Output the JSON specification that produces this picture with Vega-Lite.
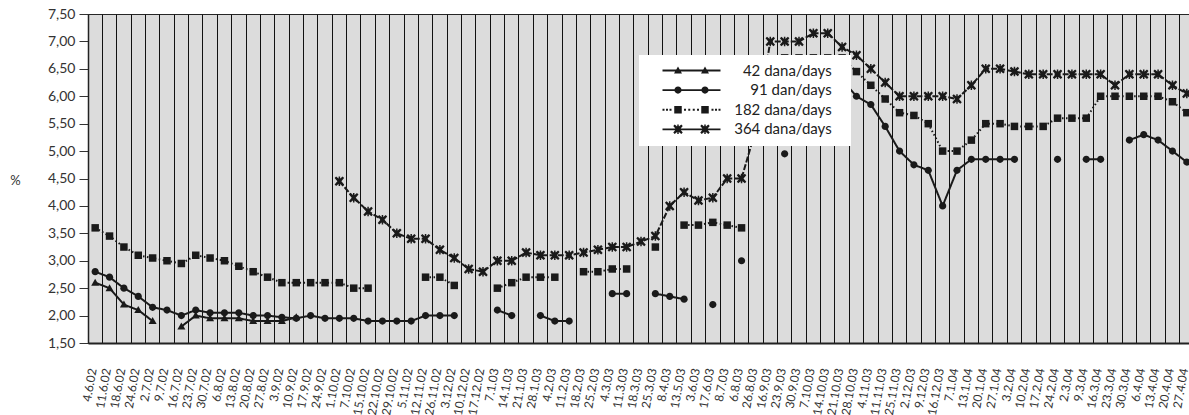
{
  "$schema": "https://vega.github.io/schema/vega-lite/v6.json",
  "width": 1106,
  "height": 329,
  "autosize": "none",
  "padding": {"left": 88, "top": 14, "right": -5, "bottom": 72},
  "background": "white",
  "config": {
    "font": "Lato",
    "view": {"fill": "#dcdcdc", "stroke": "#262626", "strokeWidth": 1}
  },
  "data": {
    "values": [
      {"d": "4.6.02", "42 dana/days": 2.6, "91 dan/days": 2.8, "182 dana/days": 3.6, "364 dana/days": null},
      {"d": "11.6.02", "42 dana/days": 2.5, "91 dan/days": 2.7, "182 dana/days": 3.45, "364 dana/days": null},
      {"d": "18.6.02", "42 dana/days": 2.2, "91 dan/days": 2.5, "182 dana/days": 3.25, "364 dana/days": null},
      {"d": "24.6.02", "42 dana/days": 2.1, "91 dan/days": 2.35, "182 dana/days": 3.1, "364 dana/days": null},
      {"d": "2.7.02", "42 dana/days": 1.9, "91 dan/days": 2.15, "182 dana/days": 3.05, "364 dana/days": null},
      {"d": "9.7.02", "42 dana/days": null, "91 dan/days": 2.1, "182 dana/days": 3.0, "364 dana/days": null},
      {"d": "16.7.02", "42 dana/days": 1.8, "91 dan/days": 2.0, "182 dana/days": 2.95, "364 dana/days": null},
      {"d": "23.7.02", "42 dana/days": 2.0, "91 dan/days": 2.1, "182 dana/days": 3.1, "364 dana/days": null},
      {"d": "30.7.02", "42 dana/days": 1.95, "91 dan/days": 2.05, "182 dana/days": 3.05, "364 dana/days": null},
      {"d": "6.8.02", "42 dana/days": 1.95, "91 dan/days": 2.05, "182 dana/days": 3.0, "364 dana/days": null},
      {"d": "13.8.02", "42 dana/days": 1.95, "91 dan/days": 2.05, "182 dana/days": 2.9, "364 dana/days": null},
      {"d": "20.8.02", "42 dana/days": 1.9, "91 dan/days": 2.0, "182 dana/days": 2.8, "364 dana/days": null},
      {"d": "27.8.02", "42 dana/days": 1.9, "91 dan/days": 2.0, "182 dana/days": 2.7, "364 dana/days": null},
      {"d": "3.9.02", "42 dana/days": 1.9, "91 dan/days": 1.97, "182 dana/days": 2.6, "364 dana/days": null},
      {"d": "10.9.02", "42 dana/days": 1.97, "91 dan/days": 1.95, "182 dana/days": 2.6, "364 dana/days": null},
      {"d": "17.9.02", "42 dana/days": null, "91 dan/days": 2.0, "182 dana/days": 2.6, "364 dana/days": null},
      {"d": "24.9.02", "42 dana/days": null, "91 dan/days": 1.95, "182 dana/days": 2.6, "364 dana/days": null},
      {"d": "1.10.02", "42 dana/days": null, "91 dan/days": 1.95, "182 dana/days": 2.6, "364 dana/days": 4.45},
      {"d": "7.10.02", "42 dana/days": null, "91 dan/days": 1.95, "182 dana/days": 2.5, "364 dana/days": 4.15},
      {"d": "15.10.02", "42 dana/days": null, "91 dan/days": 1.9, "182 dana/days": 2.5, "364 dana/days": 3.9},
      {"d": "22.10.02", "42 dana/days": null, "91 dan/days": 1.9, "182 dana/days": null, "364 dana/days": 3.75},
      {"d": "29.10.02", "42 dana/days": null, "91 dan/days": 1.9, "182 dana/days": null, "364 dana/days": 3.5},
      {"d": "5.11.02", "42 dana/days": null, "91 dan/days": 1.9, "182 dana/days": null, "364 dana/days": 3.4},
      {"d": "12.11.02", "42 dana/days": null, "91 dan/days": 2.0, "182 dana/days": 2.7, "364 dana/days": 3.4},
      {"d": "26.11.02", "42 dana/days": null, "91 dan/days": 2.0, "182 dana/days": 2.7, "364 dana/days": 3.2},
      {"d": "3.12.02", "42 dana/days": null, "91 dan/days": 2.0, "182 dana/days": 2.55, "364 dana/days": 3.05},
      {"d": "10.12.02", "42 dana/days": null, "91 dan/days": null, "182 dana/days": null, "364 dana/days": 2.85},
      {"d": "17.12.02", "42 dana/days": null, "91 dan/days": null, "182 dana/days": null, "364 dana/days": 2.8},
      {"d": "7.1.03", "42 dana/days": null, "91 dan/days": 2.1, "182 dana/days": 2.5, "364 dana/days": 3.0},
      {"d": "14.1.03", "42 dana/days": null, "91 dan/days": 2.0, "182 dana/days": 2.6, "364 dana/days": 3.0},
      {"d": "21.1.03", "42 dana/days": null, "91 dan/days": null, "182 dana/days": 2.7, "364 dana/days": 3.15},
      {"d": "28.1.03", "42 dana/days": null, "91 dan/days": 2.0, "182 dana/days": 2.7, "364 dana/days": 3.1},
      {"d": "4.2.03", "42 dana/days": null, "91 dan/days": 1.9, "182 dana/days": 2.7, "364 dana/days": 3.1},
      {"d": "11.2.03", "42 dana/days": null, "91 dan/days": 1.9, "182 dana/days": null, "364 dana/days": 3.1},
      {"d": "18.2.03", "42 dana/days": null, "91 dan/days": null, "182 dana/days": 2.8, "364 dana/days": 3.15},
      {"d": "25.2.03", "42 dana/days": null, "91 dan/days": null, "182 dana/days": 2.8, "364 dana/days": 3.2},
      {"d": "4.3.03", "42 dana/days": null, "91 dan/days": 2.4, "182 dana/days": 2.85, "364 dana/days": 3.25},
      {"d": "11.3.03", "42 dana/days": null, "91 dan/days": 2.4, "182 dana/days": 2.85, "364 dana/days": 3.25},
      {"d": "18.3.03", "42 dana/days": null, "91 dan/days": null, "182 dana/days": null, "364 dana/days": 3.35},
      {"d": "25.3.03", "42 dana/days": null, "91 dan/days": 2.4, "182 dana/days": 3.25, "364 dana/days": 3.45},
      {"d": "8.4.03", "42 dana/days": null, "91 dan/days": 2.35, "182 dana/days": null, "364 dana/days": 4.0},
      {"d": "13.5.03", "42 dana/days": null, "91 dan/days": 2.3, "182 dana/days": 3.65, "364 dana/days": 4.25},
      {"d": "3.6.03", "42 dana/days": null, "91 dan/days": null, "182 dana/days": 3.65, "364 dana/days": 4.1},
      {"d": "17.6.03", "42 dana/days": null, "91 dan/days": 2.2, "182 dana/days": 3.7, "364 dana/days": 4.15},
      {"d": "8.7.03", "42 dana/days": null, "91 dan/days": null, "182 dana/days": 3.65, "364 dana/days": 4.5},
      {"d": "6.8.03", "42 dana/days": null, "91 dan/days": 3.0, "182 dana/days": 3.6, "364 dana/days": 4.5},
      {"d": "26.8.03", "42 dana/days": null, "91 dan/days": null, "182 dana/days": null, "364 dana/days": 5.4},
      {"d": "16.9.03", "42 dana/days": null, "91 dan/days": null, "182 dana/days": null, "364 dana/days": 7.0},
      {"d": "23.9.03", "42 dana/days": null, "91 dan/days": 4.95, "182 dana/days": 6.7, "364 dana/days": 7.0},
      {"d": "30.9.03", "42 dana/days": null, "91 dan/days": null, "182 dana/days": 6.7, "364 dana/days": 7.0},
      {"d": "7.10.03", "42 dana/days": null, "91 dan/days": null, "182 dana/days": 6.7, "364 dana/days": 7.15},
      {"d": "14.10.03", "42 dana/days": null, "91 dan/days": null, "182 dana/days": 6.7, "364 dana/days": 7.15},
      {"d": "21.10.03", "42 dana/days": null, "91 dan/days": 6.3, "182 dana/days": 6.7, "364 dana/days": 6.9},
      {"d": "28.10.03", "42 dana/days": null, "91 dan/days": 6.0, "182 dana/days": 6.45, "364 dana/days": 6.75},
      {"d": "4.11.03", "42 dana/days": null, "91 dan/days": 5.85, "182 dana/days": 6.2, "364 dana/days": 6.5},
      {"d": "11.11.03", "42 dana/days": null, "91 dan/days": 5.45, "182 dana/days": 5.95, "364 dana/days": 6.25},
      {"d": "25.11.03", "42 dana/days": null, "91 dan/days": 5.0, "182 dana/days": 5.7, "364 dana/days": 6.0},
      {"d": "2.12.03", "42 dana/days": null, "91 dan/days": 4.75, "182 dana/days": 5.65, "364 dana/days": 6.0},
      {"d": "9.12.03", "42 dana/days": null, "91 dan/days": 4.65, "182 dana/days": 5.5, "364 dana/days": 6.0},
      {"d": "16.12.03", "42 dana/days": null, "91 dan/days": 4.0, "182 dana/days": 5.0, "364 dana/days": 6.0},
      {"d": "7.1.04", "42 dana/days": null, "91 dan/days": 4.65, "182 dana/days": 5.0, "364 dana/days": 5.95},
      {"d": "13.1.04", "42 dana/days": null, "91 dan/days": 4.85, "182 dana/days": 5.2, "364 dana/days": 6.2},
      {"d": "20.1.04", "42 dana/days": null, "91 dan/days": 4.85, "182 dana/days": 5.5, "364 dana/days": 6.5},
      {"d": "27.1.04", "42 dana/days": null, "91 dan/days": 4.85, "182 dana/days": 5.5, "364 dana/days": 6.5},
      {"d": "3.2.04", "42 dana/days": null, "91 dan/days": 4.85, "182 dana/days": 5.45, "364 dana/days": 6.45},
      {"d": "10.2.04", "42 dana/days": null, "91 dan/days": null, "182 dana/days": 5.45, "364 dana/days": 6.4},
      {"d": "17.2.04", "42 dana/days": null, "91 dan/days": null, "182 dana/days": 5.45, "364 dana/days": 6.4},
      {"d": "24.2.04", "42 dana/days": null, "91 dan/days": 4.85, "182 dana/days": 5.6, "364 dana/days": 6.4},
      {"d": "2.3.04", "42 dana/days": null, "91 dan/days": null, "182 dana/days": 5.6, "364 dana/days": 6.4},
      {"d": "9.3.04", "42 dana/days": null, "91 dan/days": 4.85, "182 dana/days": 5.6, "364 dana/days": 6.4},
      {"d": "16.3.04", "42 dana/days": null, "91 dan/days": 4.85, "182 dana/days": 6.0, "364 dana/days": 6.4},
      {"d": "23.3.04", "42 dana/days": null, "91 dan/days": null, "182 dana/days": 6.0, "364 dana/days": 6.2},
      {"d": "30.3.04", "42 dana/days": null, "91 dan/days": 5.2, "182 dana/days": 6.0, "364 dana/days": 6.4},
      {"d": "6.4.04", "42 dana/days": null, "91 dan/days": 5.3, "182 dana/days": 6.0, "364 dana/days": 6.4},
      {"d": "13.4.04", "42 dana/days": null, "91 dan/days": 5.2, "182 dana/days": 6.0, "364 dana/days": 6.4},
      {"d": "20.4.04", "42 dana/days": null, "91 dan/days": 5.0, "182 dana/days": 5.9, "364 dana/days": 6.2},
      {"d": "27.4.04", "42 dana/days": null, "91 dan/days": 4.8, "182 dana/days": 5.7, "364 dana/days": 6.05}
    ]
  },
  "transform": [
    {"fold": ["42 dana/days", "91 dan/days", "182 dana/days", "364 dana/days"], "as": ["series", "value"]}
  ],
  "encoding": {
    "y": {
      "field": "value",
      "type": "quantitative",
      "scale": {"domain": [1.5, 7.5], "nice": false, "zero": false},
      "axis": {
        "values": [1.5, 2, 2.5, 3, 3.5, 4, 4.5, 5, 5.5, 6, 6.5, 7, 7.5],
        "labelExpr": "replace(format(datum.value, '.2f'), '.', ',')",
        "grid": false,
        "ticks": true,
        "tickSize": 9,
        "tickColor": "#333333",
        "tickWidth": 1,
        "labelPadding": 4,
        "labelFontSize": 14,
        "labelFont": "Lato",
        "labelColor": "#333333",
        "domain": true,
        "domainColor": "#222222",
        "domainWidth": 1.5,
        "title": "%",
        "titleAngle": 0,
        "titleX": -73,
        "titleY": 166,
        "titleAlign": "center",
        "titleBaseline": "middle",
        "titleFontSize": 13,
        "titleFontWeight": "normal",
        "titleFont": "Lato",
        "titleColor": "#333333"
      }
    }
  },
  "layer": [
    {
      "mark": {"type": "line", "color": "#1a1a1a", "strokeWidth": 2},
      "encoding": {
        "x": {
          "field": "d",
          "type": "ordinal",
          "sort": null,
          "scale": {"type": "band", "paddingInner": 0, "paddingOuter": 0},
          "axis": {
            "orient": "top",
            "grid": true,
            "bandPosition": 0,
            "labels": false,
            "ticks": false,
            "domain": false,
            "title": null,
            "gridColor": "#111111",
            "gridWidth": 1,
            "gridOpacity": 1
          }
        },
        "strokeDash": {
          "field": "series",
          "type": "nominal",
          "scale": {
            "domain": ["91 dan/days", "42 dana/days", "182 dana/days", "364 dana/days"],
            "range": [[1, 0], [1, 0], [1.5, 2.5], [6, 2]]
          },
          "legend": null
        }
      }
    },
    {
      "mark": {"type": "point", "filled": true, "size": 100, "color": "#1a1a1a", "opacity": 1, "strokeWidth": 0},
      "encoding": {
        "x": {
          "field": "d",
          "type": "ordinal",
          "sort": null,
          "scale": {"type": "band", "paddingInner": 0, "paddingOuter": 0},
          "axis": {
            "orient": "bottom",
            "grid": false,
            "ticks": false,
            "tickSize": 0,
            "domain": true,
            "domainColor": "#222222",
            "domainWidth": 2,
            "labelAngle": -80,
            "labelPadding": 25,
            "labelOffset": -2.5,
            "labelFontSize": 12,
            "labelFont": "Lato",
            "labelColor": "#333333",
            "labelOverlap": false,
            "title": null
          }
        },
        "shape": {
          "field": "series",
          "type": "nominal",
          "scale": {
            "domain": ["91 dan/days", "42 dana/days", "182 dana/days", "364 dana/days"],
            "range": [
              "M0.72,0A0.72,0.72,0,1,1,-0.72,0A0.72,0.72,0,1,1,0.72,0Z",
              "M0,-0.8L0.8,0.6L-0.8,0.6Z",
              "M-0.75,-0.75L0.75,-0.75L0.75,0.75L-0.75,0.75Z",
              "M0,-0.4L0.65,-0.95L0.95,-0.65L0.4,0L0.95,0.65L0.65,0.95L0,0.4L-0.65,0.95L-0.95,0.65L-0.4,0L-0.95,-0.65L-0.65,-0.95ZM-0.15,-0.95L0.15,-0.95L0.15,0.95L-0.15,0.95Z"
            ]
          },
          "legend": null
        }
      }
    },
    {
      "transform": [{"filter": "datum.series === 'none'"}],
      "mark": {"type": "point", "filled": true, "size": 100, "color": "#1a1a1a", "opacity": 1, "strokeWidth": 0},
      "encoding": {
        "x": {
          "field": "d",
          "type": "ordinal",
          "sort": null,
          "scale": {"type": "band", "paddingInner": 0, "paddingOuter": 0},
          "axis": null
        },
        "shape": {
          "field": "series",
          "type": "nominal",
          "scale": {
            "domain": ["42 dana/days", "91 dan/days", "182 dana/days", "364 dana/days"],
            "range": [
              "M-8.9,0M-5.8,-0.18L5.8,-0.18L5.8,0.18L-5.8,0.18ZM-2.7,-0.8L-1.9,0.6L-3.5,0.6ZM2.7,-0.8L3.5,0.6L1.9,0.6ZM30.24,0",
              "M-8.9,0M-5.8,-0.18L5.8,-0.18L5.8,0.18L-5.8,0.18ZM-1.98,0A0.72,0.72,0,1,1,-3.42,0A0.72,0.72,0,1,1,-1.98,0ZM3.42,0A0.72,0.72,0,1,1,1.98,0A0.72,0.72,0,1,1,3.42,0ZM30.24,0",
              "M-8.9,0M-5.8,-0.2L-5.4,-0.2L-5.4,0.2L-5.8,0.2ZM-5.1,-0.2L-4.7,-0.2L-4.7,0.2L-5.1,0.2ZM-4.4,-0.2L-4,-0.2L-4,0.2L-4.4,0.2ZM-1.5,-0.2L-1.1,-0.2L-1.1,0.2L-1.5,0.2ZM-0.65,-0.2L-0.25,-0.2L-0.25,0.2L-0.65,0.2ZM0.25,-0.2L0.65,-0.2L0.65,0.2L0.25,0.2ZM1.1,-0.2L1.5,-0.2L1.5,0.2L1.1,0.2ZM4,-0.2L4.4,-0.2L4.4,0.2L4,0.2ZM4.7,-0.2L5.1,-0.2L5.1,0.2L4.7,0.2ZM5.4,-0.2L5.8,-0.2L5.8,0.2L5.4,0.2ZM-3.45,-0.75L-1.95,-0.75L-1.95,0.75L-3.45,0.75ZM1.95,-0.75L3.45,-0.75L3.45,0.75L1.95,0.75ZM30.24,0",
              "M-8.9,0M-5.8,-0.18L5.8,-0.18L5.8,0.18L-5.8,0.18ZM-2.7,-0.4L-2.05,-0.95L-1.75,-0.65L-2.3,0L-1.75,0.65L-2.05,0.95L-2.7,0.4L-3.35,0.95L-3.65,0.65L-3.1,0L-3.65,-0.65L-3.35,-0.95ZM-2.85,-0.95L-2.55,-0.95L-2.55,0.95L-2.85,0.95ZM2.7,-0.4L3.35,-0.95L3.65,-0.65L3.1,0L3.65,0.65L3.35,0.95L2.7,0.4L2.05,0.95L1.75,0.65L2.3,0L1.75,-0.65L2.05,-0.95ZM2.55,-0.95L2.85,-0.95L2.85,0.95L2.55,0.95ZM30.24,0"
            ]
          },
          "legend": {
            "orient": "none",
            "legendX": 551,
            "legendY": 41,
            "title": null,
            "fillColor": "white",
            "padding": 8,
            "symbolSize": 100,
            "symbolOffset": 37,
            "symbolStrokeWidth": 0,
            "symbolOpacity": 1,
            "labelAlign": "right",
            "labelOffset": 132.7,
            "labelFontSize": 15,
            "labelFont": "Lato",
            "labelColor": "#222222",
            "labelLimit": 300,
            "rowPadding": 3.6
          }
        }
      }
    }
  ],
  "resolve": {"axis": {"x": "independent"}, "scale": {"shape": "independent"}}
}
